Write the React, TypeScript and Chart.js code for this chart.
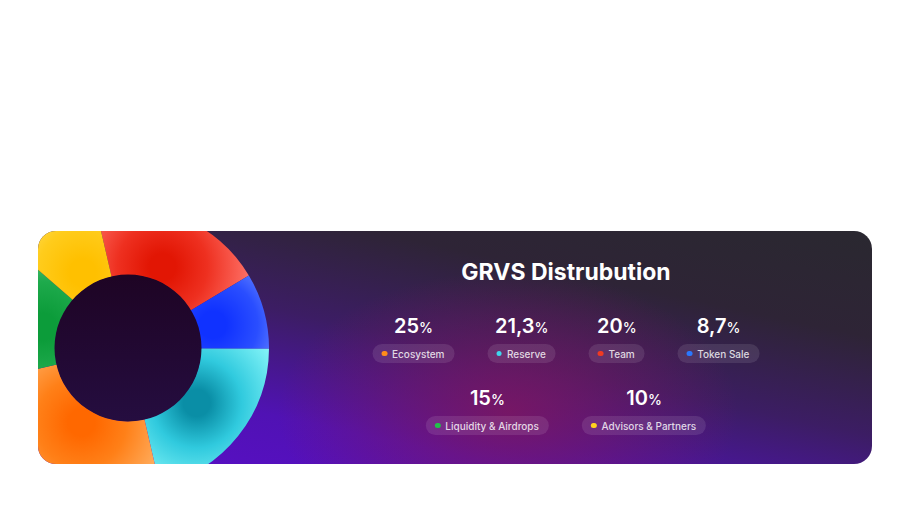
import React, { useEffect, useRef } from "react";
import { Chart, registerables } from "chart.js";

Chart.register(...registerables);

// ---- data ----
const categories = ["Ecosystem", "Reserve", "Team", "Token Sale", "Liquidity & Airdrops", "Advisors & Partners"];
const shares = [25, 21.3, 20, 8.7, 15, 10];
// order in which the slices run clockwise round the ring (indices into categories)
const sliceOrder = [2, 3, 1, 0, 4, 5];
const legendRows = [[0, 1, 2, 3], [4, 5]];
const title = "GRVS Distrubution";

// ---- styles ----
const dotColors = ["#ff8c1a", "#3fd6ee", "#f03a22", "#2a78ff", "#22c04a", "#ffd21e"];
const sliceShades: string[][] = [
  ["#ff6800", "#ff8018", "#ffb266"], // Ecosystem
  ["#0a8ea6", "#30cade", "#84f4f8"], // Reserve
  ["#e21604", "#ee3020", "#ff746a"], // Team
  ["#1032ff", "#2a4eff", "#8eaaff"], // Token Sale
  ["#0c9c3a", "#1eaa4c", "#78d49a"], // Liquidity
  ["#ffc000", "#ffcc1c", "#ffe880"], // Advisors
];

const FONT = "Inter, 'Noto Sans', sans-serif";

const slicePlugin = {
  id: "sliceShading",
  beforeDatasetDraw(chart: any, args: any) {
    const ctx: CanvasRenderingContext2D = chart.ctx;
    args.meta.data.forEach((arc: any, i: number) => {
      const p = arc.getProps(["x", "y", "startAngle", "endAngle", "innerRadius", "outerRadius"], true);
      const mid = (p.startAngle + p.endAngle) / 2;
      const r = p.innerRadius + (p.outerRadius - p.innerRadius) * 0.22;
      const gx = p.x + Math.cos(mid) * r;
      const gy = p.y + Math.sin(mid) * r;
      const g = ctx.createRadialGradient(gx, gy, 0, gx, gy, 90);
      const sh = sliceShades[sliceOrder[i]];
      g.addColorStop(0, sh[0]);
      g.addColorStop(0.15, sh[0]);
      g.addColorStop(0.5, sh[1]);
      g.addColorStop(1, sh[2]);
      arc.options = { ...arc.options, backgroundColor: g };
    });
  },
  afterDatasetDraw(chart: any, args: any) {
    const ctx: CanvasRenderingContext2D = chart.ctx;
    const arc = args.meta.data[0];
    if (!arc) return;
    const p = arc.getProps(["x", "y", "innerRadius"], true);
    const g = ctx.createLinearGradient(0, p.y - p.innerRadius, 0, p.y + p.innerRadius);
    g.addColorStop(0, "#1e0424");
    g.addColorStop(1, "#250d40");
    ctx.save();
    ctx.beginPath();
    ctx.arc(p.x, p.y, p.innerRadius + 0.5, 0, Math.PI * 2);
    ctx.fillStyle = g;
    ctx.fill();
    ctx.restore();
  },
};

function Donut() {
  const ref = useRef<HTMLCanvasElement | null>(null);
  useEffect(() => {
    if (!ref.current) return;
    const chart = new Chart(ref.current, {
      type: "doughnut",
      data: {
        labels: sliceOrder.map((i) => categories[i]),
        datasets: [
          {
            data: sliceOrder.map((i) => shares[i]),
            backgroundColor: sliceOrder.map((i) => sliceShades[i][1]),
            borderWidth: 0,
          },
        ],
      },
      options: {
        responsive: false,
        animation: false,
        rotation: -13,
        cutout: 73,
        layout: { padding: 0 },
        plugins: { legend: { display: false }, tooltip: { enabled: false } },
        events: [],
      },
      plugins: [slicePlugin],
    });
    return () => chart.destroy();
  }, []);
  return <canvas ref={ref} width={282} height={282} style={{ position: "absolute", left: -51, top: -24, width: 282, height: 282 }} />;
}

function Item({ idx }: { idx: number }) {
  const txt = String(shares[idx]).replace(".", ",");
  return (
    <div style={{ display: "flex", flexDirection: "column", alignItems: "center" }}>
      <div style={{ height: 22, lineHeight: "22px", color: "#fff", fontWeight: 600, fontSize: 20, whiteSpace: "nowrap" }}>
        {txt}
        <span style={{ fontSize: 14, fontWeight: 500 }}>%</span>
      </div>
      <div
        style={{
          marginTop: 7,
          height: 19,
          borderRadius: 10,
          background: "rgba(255,255,255,0.1)",
          display: "flex",
          alignItems: "center",
          padding: "0 10px 0 9px",
          whiteSpace: "nowrap",
        }}
      >
        <span style={{ width: 5.5, height: 5.5, borderRadius: "50%", background: dotColors[idx], marginRight: 5, display: "inline-block" }} />
        <span style={{ fontSize: 10, color: "rgba(255,255,255,0.82)", fontWeight: 500 }}>{categories[idx]}</span>
      </div>
    </div>
  );
}

export default function App() {
  return (
    <div
      style={{
        position: "absolute",
        left: 38,
        top: 231,
        width: 834,
        height: 233,
        borderRadius: 18,
        overflow: "hidden",
        fontFamily: FONT,
        background:
          "radial-gradient(ellipse 230px 140px at 470px 180px, rgba(130,22,92,0.8), rgba(130,22,92,0) 100%), linear-gradient(192deg, #2a2830 0%, #2e2436 26%, #3c1d64 50%, #5012b4 76%, #5a0ec8 100%)",
      }}
    >
      <Donut />
      <div style={{ position: "absolute", left: 528, top: 27, transform: "translateX(-50%)", whiteSpace: "nowrap", color: "#fff", fontSize: 23, lineHeight: "28px", fontWeight: 700 }}>
        {title}
      </div>
      {legendRows.map((row, r) => (
        <div
          key={r}
          style={{ position: "absolute", left: 528, top: r === 0 ? 84 : 156, transform: "translateX(-50%)", display: "flex", gap: 33 }}
        >
          {row.map((i) => (
            <Item key={i} idx={i} />
          ))}
        </div>
      ))}
    </div>
  );
}
